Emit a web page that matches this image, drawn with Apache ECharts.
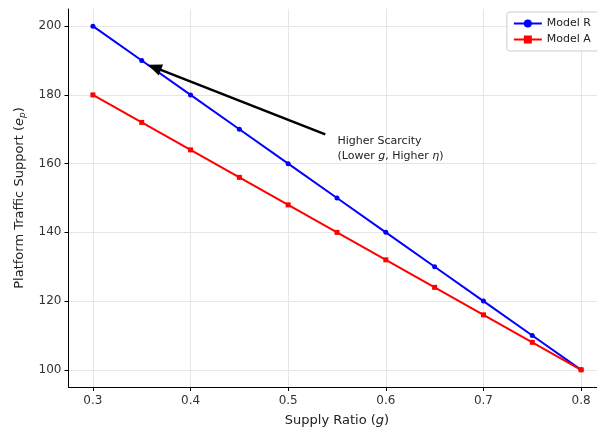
<!DOCTYPE html>
<html><head><meta charset="utf-8">
<script src="https://cdn.jsdelivr.net/npm/echarts@6/dist/echarts.min.js"></script>
<style>html,body{margin:0;padding:0;background:#fff}#c{width:597px;height:428px}</style>
</head><body><div id="c"></div>
<script>
const gValues = [0.3,0.35,0.4,0.45,0.5,0.55,0.6,0.65,0.7,0.75,0.8];
const modelR = [200,190,180,170,160,150,140,130,120,110,100];
const modelA = [180,172,164,156,148,140,132,124,116,108,100];
const xTicks = [0.3,0.4,0.5,0.6,0.7,0.8];
const yTicks = [100,120,140,160,180,200];
const arrowFrom = [0.538,168.5];
const arrowTo = [0.363,188];

const F = 'DejaVu Sans';
const chart = echarts.init(document.getElementById('c'));
const axisCommon = {
  axisLine:{show:true,lineStyle:{color:'#000',width:1}},
  axisTick:{show:true,length:4,inside:false,lineStyle:{color:'#000'}},
  splitLine:{show:true,lineStyle:{color:'#e6e6e6',width:1}},
  axisLabel:{color:'#333',fontFamily:F,fontSize:12}
};
chart.setOption({
  animation:false,
  grid:{left:68.5,width:537,top:9,bottom:41,containLabel:false,outerBoundsMode:'none'},
  xAxis:Object.assign({},axisCommon,{
    type:'value',min:0.275,max:0.825,
    axisTick:Object.assign({},axisCommon.axisTick,{customValues:xTicks}),
    axisLabel:Object.assign({},axisCommon.axisLabel,{customValues:xTicks,margin:8,formatter:v=>v.toFixed(1)}),
    name:'{n|Supply Ratio (}{i|g}{n|)}',nameLocation:'middle',nameGap:27,
    nameTextStyle:{rich:{n:{fontFamily:F,fontSize:13,color:'#222'},i:{fontFamily:F,fontSize:13,fontStyle:'italic',color:'#222'}}}
  }),
  yAxis:Object.assign({},axisCommon,{
    type:'value',min:95,max:205,
    axisTick:Object.assign({},axisCommon.axisTick,{customValues:yTicks}),
    axisLabel:Object.assign({},axisCommon.axisLabel,{customValues:yTicks,margin:7}),
    name:'{n|Platform Traffic Support (}{i|e}{s|p}{n|)}',nameLocation:'middle',nameGap:41,nameRotate:90,
    nameTextStyle:{rich:{n:{fontFamily:F,fontSize:13,color:'#222'},i:{fontFamily:F,fontSize:13,fontStyle:'italic',color:'#222'},s:{fontFamily:F,fontSize:9,fontStyle:'italic',color:'#222',verticalAlign:'bottom',padding:[6,0,0,0]}}}
  }),
  legend:{
    right:-2,top:12,orient:'vertical',itemGap:5,itemWidth:28,itemHeight:10,
    padding:[6,8,6,6],borderColor:'#ccc',borderWidth:1,borderRadius:3,backgroundColor:'rgba(255,255,255,0.8)',
    textStyle:{fontFamily:F,fontSize:11,color:'#222'},
    data:['Model R','Model A']
  },
  series:[
    {name:'Model R',type:'line',data:gValues.map((g,i)=>[g,modelR[i]]),color:'#0000ff',
     lineStyle:{width:2},symbol:'circle',symbolSize:5,itemStyle:{color:'#0000ff'},
     markLine:{silent:true,symbol:['none','triangle'],symbolSize:[12,14],
       lineStyle:{color:'#000',width:2.5,type:'solid'},label:{show:false},
       data:[[{coord:arrowFrom},{coord:arrowTo}]]}},
    {name:'Model A',type:'line',data:gValues.map((g,i)=>[g,modelA[i]]),color:'#ff0000',
     lineStyle:{width:2},symbol:'rect',symbolSize:5,itemStyle:{color:'#ff0000'},
     markPoint:{silent:true,symbol:'rect',symbolSize:1,itemStyle:{color:'transparent'},
       data:[{coord:[0.55,164.5],label:{show:true,position:'right',distance:0,align:'left',
         formatter:'{n|Higher Scarcity}\n{n|(Lower }{i|g}{n|, Higher }{i|η}{n|)}',
         rich:{n:{fontFamily:F,fontSize:11,color:'#222',lineHeight:15},i:{fontFamily:F,fontSize:11,fontStyle:'italic',color:'#222',lineHeight:15}}}}]}}
  ]
});
</script></body></html>
